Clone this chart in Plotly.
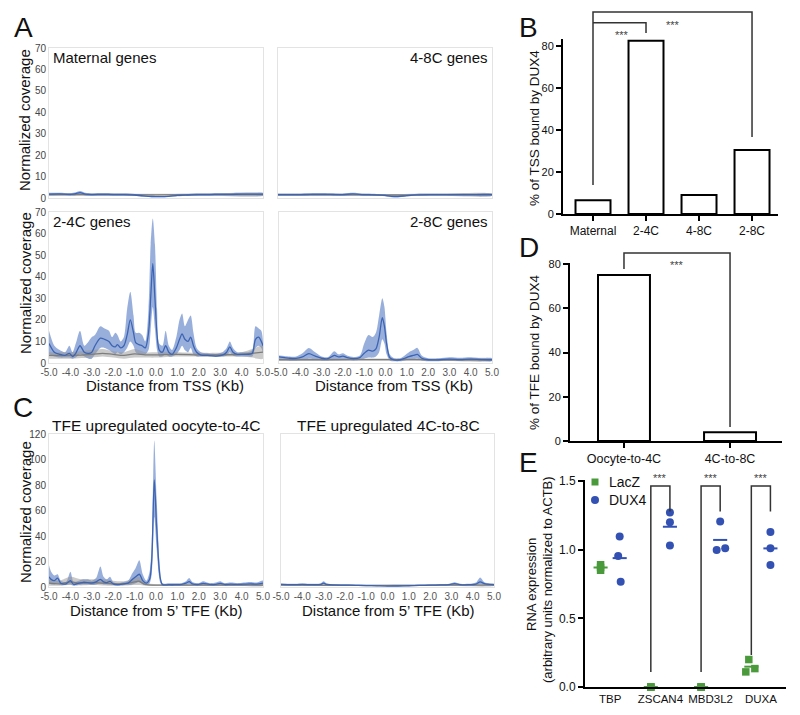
import plotly.graph_objects as go

W, H = 800, 715
FONT = "Liberation Sans, Arial, sans-serif"

# ---------------- DATA ----------------
# Panel A – Maternal genes (DUX4 blue, control gray)
mat_x = [-5.0, -4.5, -4.0, -3.75, -3.55, -3.3, -3.0, -2.5, -2.0, -1.5, -1.0, -0.6, -0.2, 0.2, 0.6, 1.0, 1.5, 2.0, 2.5, 3.0, 3.5, 4.0, 4.5, 5.0]
mat_mean = [1.8, 1.9, 1.7, 2.0, 2.5, 1.8, 1.6, 1.7, 1.6, 1.6, 1.4, 1.0, 0.7, 0.6, 0.8, 1.2, 1.4, 1.6, 1.6, 1.7, 1.7, 1.8, 1.8, 1.8]
mat_lo = [1.2, 1.3, 1.1, 1.3, 1.6, 1.2, 1.0, 1.1, 1.0, 1.0, 0.9, 0.6, 0.4, 0.3, 0.5, 0.8, 0.9, 1.0, 1.0, 1.1, 1.1, 1.2, 1.2, 1.2]
mat_hi = [2.4, 2.5, 2.3, 2.7, 3.3, 2.4, 2.2, 2.3, 2.2, 2.2, 1.9, 1.4, 1.0, 0.9, 1.1, 1.6, 1.9, 2.2, 2.2, 2.3, 2.3, 2.4, 2.4, 2.4]
mat_gx = [-5.0, -2.5, 0.0, 2.5, 5.0]
mat_gmean = [1.6, 1.6, 1.5, 1.6, 1.6]
mat_glo = [1.1, 1.1, 1.0, 1.1, 1.1]
mat_ghi = [2.1, 2.1, 2.0, 2.1, 2.1]

# Panel A – 4-8C genes
g48_x = [-5.0, -4.0, -3.0, -2.0, -1.5, -1.0, -0.5, 0.0, 0.3, 0.6, 1.0, 1.5, 2.0, 3.0, 4.0, 5.0]
g48_mean = [1.6, 1.6, 1.7, 1.6, 1.9, 1.6, 1.5, 1.2, 0.8, 0.7, 1.1, 1.5, 1.6, 1.6, 1.6, 1.6]
g48_lo = [1.1, 1.1, 1.2, 1.1, 1.3, 1.1, 1.0, 0.8, 0.4, 0.3, 0.7, 1.0, 1.1, 1.1, 1.1, 1.1]
g48_hi = [2.1, 2.1, 2.3, 2.1, 2.5, 2.1, 2.0, 1.6, 1.2, 1.1, 1.5, 2.0, 2.1, 2.1, 2.1, 2.1]
g48_gx = [-5.0, -2.5, 0.0, 2.5, 5.0]
g48_gmean = [1.5, 1.5, 1.4, 1.5, 1.5]
g48_glo = [1.0, 1.0, 0.9, 1.0, 1.0]
g48_ghi = [2.0, 2.0, 1.9, 2.0, 2.0]

# Panel A – 2-4C genes
g24_x = [-5.0, -4.75, -4.5, -4.25, -4.05, -3.9, -3.75, -3.55, -3.35, -3.15, -3.0, -2.85, -2.6, -2.4, -2.2, -2.05,
         -1.9, -1.8, -1.65, -1.5, -1.35, -1.2, -1.05, -0.95, -0.8, -0.65, -0.5, -0.35, -0.25, -0.15, -0.05, 0.05,
         0.15, 0.3, 0.45, 0.6, 0.75, 0.95, 1.1, 1.22, 1.35, 1.5, 1.62, 1.75, 1.9, 2.1, 2.4, 2.8, 3.1, 3.3, 3.45,
         3.6, 3.8, 4.0, 4.3, 4.5, 4.65, 4.8, 4.92, 5.0]
g24_mean = [9, 5, 4, 3.5, 4.5, 3, 4.5, 8, 5, 4.5, 5, 8, 11.5, 11, 10, 8,
            7.5, 8.5, 7, 8, 13, 20, 14, 9.5, 8.5, 8, 7, 14, 30, 46, 30, 13,
            6, 5, 8, 5, 4, 7, 11, 13.5, 11, 10, 12, 8, 5, 3.7, 3.5, 3.2, 3.6, 5, 7.5,
            5, 4, 4, 4, 4.5, 11, 12, 10, 8]
g24_lo = [4, 3, 2.5, 2.5, 2.5, 2, 2.5, 4, 3, 2, 2, 4, 7, 7, 6, 5,
          4, 5, 4, 5, 7, 10, 8, 5, 4, 4, 4, 6, 15, 26, 16, 6,
          3, 3, 4, 3, 3, 4, 6, 8, 6, 5, 7, 4, 3, 3, 3, 2.8, 3, 3.5, 5,
          3.5, 3, 3, 3, 3, 7, 8, 7, 5]
g24_hi = [15, 8, 6, 5, 8, 5, 9, 15, 8, 10, 12, 13, 17, 16, 15, 12,
          14, 13, 10, 12, 25, 33, 22, 14, 14, 13, 10, 25, 55, 67, 55, 25,
          9, 8, 15, 8, 6, 12, 20, 23, 17, 20, 22, 14, 7, 5, 4.5, 4.2, 5, 7, 10,
          7, 5, 5, 5, 6, 17, 16, 15, 10]
g24_gx = [-5.0, -4.0, -3.0, -2.5, -2.0, -1.5, -1.0, -0.5, 0.0, 1.0, 2.0, 3.0, 4.0, 4.5, 5.0]
g24_gmean = [3.5, 3.5, 4.0, 4.5, 4.0, 3.5, 4.2, 3.8, 3.8, 4.0, 3.8, 3.8, 4.0, 4.5, 5.0]
g24_glo = [2.0, 2.0, 2.5, 3.0, 2.5, 2.0, 2.5, 2.5, 2.5, 3.0, 3.0, 3.0, 3.0, 2.5, 2.0]
g24_ghi = [5.0, 5.0, 6.0, 6.5, 5.5, 5.0, 6.5, 5.0, 5.0, 5.0, 4.7, 4.7, 5.0, 6.5, 8.0]

# Panel A – 2-8C genes
g28_x = [-5.0, -4.75, -4.5, -4.2, -3.9, -3.6, -3.3, -3.0, -2.7, -2.4, -2.2, -2.0, -1.8, -1.5, -1.2, -1.0, -0.8,
         -0.6, -0.45, -0.3, -0.15, -0.05, 0.05, 0.2, 0.4, 0.7, 0.9, 1.1, 1.3, 1.5, 1.7, 2.0, 2.5, 3.0, 3.5, 4.0, 4.5, 5.0]
g28_mean = [2.8, 2.5, 2.2, 2.1, 2.8, 4.3, 3.2, 2.2, 2.0, 3.5, 2.8, 3.2, 2.5, 2.0, 2.5, 4.5, 6.0,
            5.5, 6.5, 12, 21, 17, 9, 2.5, 1.5, 1.5, 2.2, 3.0, 3.5, 4.0, 2.2, 1.5, 1.5, 1.8, 1.6, 1.8, 1.6, 1.5]
g28_lo = [1.5, 1.5, 1.2, 1.2, 1.5, 2.0, 1.8, 1.2, 1.2, 1.8, 1.5, 1.8, 1.5, 1.2, 1.5, 2.0, 2.5,
          2.5, 3.0, 5.0, 11, 9, 4, 1.2, 0.8, 0.8, 1.2, 1.5, 1.8, 2.0, 1.2, 0.8, 0.8, 1.0, 0.9, 1.0, 0.9, 0.9]
g28_hi = [3.5, 3.3, 3.0, 3.0, 4.5, 7.0, 5.0, 3.0, 2.8, 5.5, 4.0, 4.5, 3.5, 2.8, 3.5, 9.0, 13,
          12, 14, 22, 30, 26, 14, 4.0, 2.2, 2.2, 3.5, 5.0, 6.0, 7.0, 3.5, 2.2, 2.2, 2.7, 2.4, 2.7, 2.3, 2.2]
g28_gx = [-5.0, -2.5, 0.0, 2.5, 5.0]
g28_gmean = [1.5, 1.5, 1.6, 1.5, 1.5]
g28_glo = [1.0, 1.0, 1.1, 1.0, 1.0]
g28_ghi = [2.0, 2.0, 2.1, 2.0, 2.0]

# Panel C – TFE upregulated oocyte-to-4C
tfe1_x = [-5.0, -4.9, -4.75, -4.6, -4.45, -4.2, -4.0, -3.85, -3.6, -3.4, -3.2, -3.0, -2.8, -2.6, -2.45, -2.3,
          -2.15, -2.0, -1.8, -1.5, -1.3, -1.1, -0.95, -0.78, -0.62, -0.45, -0.3, -0.2, -0.08, 0.03, 0.19, 0.3,
          0.6, 0.9, 1.2, 1.4, 1.55, 1.7, 2.0, 2.2, 2.5, 2.8, 3.0, 3.2, 3.5, 3.8, 4.1, 4.4, 4.7, 5.0]
tfe1_mean = [8, 6, 5, 7, 3, 2.5, 5, 2, 3, 3.7, 3.5, 3, 4, 6, 4, 3.5,
             4.4, 2.5, 1.8, 2.5, 3, 6, 8, 10, 5, 3, 6, 21, 84, 47, 8, 2,
             1.8, 1.8, 2, 3, 4.2, 2.5, 2, 2.8, 2, 2, 2.8, 2, 2.2, 2, 2.2, 2.5, 2.2, 3]
tfe1_lo = [3, 2, 2, 3, 1.5, 1.5, 2, 1, 1.5, 2, 2, 1.5, 2, 3, 2, 2,
           2, 1.5, 1, 1.5, 1.5, 2, 3, 4, 2, 1.5, 3, 10, 55, 30, 4, 1,
           1, 1, 1, 1.5, 2, 1.5, 1, 1.5, 1, 1, 1.5, 1, 1, 1, 1, 1.5, 1, 1.5]
tfe1_hi = [17, 12, 9, 10, 5, 4, 12, 4, 5, 6, 6, 5, 7, 16, 8, 6,
           8, 4, 3, 4, 5, 11, 15, 21, 10, 5, 12, 35, 115, 70, 14, 3,
           3, 3, 3, 4.5, 7, 4, 3, 4.5, 3, 3.5, 4.5, 3, 3.5, 3, 3.5, 4, 3.5, 5]
tfe1_gx = [-5.0, -4.5, -4.0, -3.5, -3.0, -2.5, -2.0, -1.5, -1.0, -0.8, -0.5, 0.0, 1.0, 2.0, 3.0, 4.0, 5.0]
tfe1_gmean = [3, 2.5, 4, 3, 3.5, 3, 2.5, 2.5, 4, 4.5, 2, 1.5, 1.5, 1.5, 1.5, 1.5, 1.5]
tfe1_glo = [1, 1, 1.5, 1.2, 1.5, 1.2, 1, 1, 1.5, 1.5, 1, 0.8, 0.8, 0.8, 0.8, 0.8, 0.8]
tfe1_ghi = [6, 5, 8, 6, 6, 6, 5, 4.5, 7, 8, 3.5, 2.2, 2.2, 2.2, 2.2, 2.2, 2.2]

# Panel C – TFE upregulated 4C-to-8C
tfe2_x = [-5.0, -4.5, -4.0, -3.5, -3.15, -3.0, -2.85, -2.5, -2.0, -1.5, -1.0, -0.5, 0.0, 0.5, 1.0, 1.5, 2.0, 2.5,
          2.9, 3.15, 3.4, 3.8, 4.15, 4.35, 4.55, 4.8, 5.0]
tfe2_mean = [2.0, 1.8, 2.0, 1.8, 2.0, 3.0, 2.0, 1.6, 1.5, 1.3, 1.1, 0.9, 0.7, 0.8, 1.0, 1.2, 1.4, 1.6,
             1.9, 2.6, 1.9, 1.8, 2.3, 4.0, 2.6, 2.0, 1.9]
tfe2_lo = [1.3, 1.2, 1.3, 1.2, 1.3, 1.8, 1.3, 1.0, 0.9, 0.8, 0.6, 0.5, 0.4, 0.4, 0.6, 0.7, 0.8, 1.0,
           1.2, 1.5, 1.2, 1.1, 1.4, 2.2, 1.6, 1.2, 1.2]
tfe2_hi = [2.7, 2.5, 2.7, 2.5, 2.8, 4.5, 2.8, 2.2, 2.1, 1.8, 1.6, 1.3, 1.0, 1.2, 1.5, 1.7, 2.0, 2.2,
           2.6, 3.8, 2.6, 2.5, 3.5, 7.5, 3.8, 2.8, 2.6]
tfe2_gx = [-5.0, -2.5, 0.0, 2.5, 5.0]
tfe2_gmean = [1.4, 1.3, 1.3, 1.4, 1.4]
tfe2_glo = [0.9, 0.8, 0.8, 0.9, 0.9]
tfe2_ghi = [1.9, 1.8, 1.8, 1.9, 1.9]

dist_ticks = [-5.0, -4.0, -3.0, -2.0, -1.0, 0.0, 1.0, 2.0, 3.0, 4.0, 5.0]
dist_ticktext = ["-5.0", "-4.0", "-3.0", "-2.0", "-1.0", "0.0", "1.0", "2.0", "3.0", "4.0", "5.0"]

# Panel B
b_cats = ["Maternal", "2-4C", "4-8C", "2-8C"]
b_vals = [6.5, 82.5, 9.0, 30.5]

# Panel D
d_cats = ["Oocyte-to-4C", "4C-to-8C"]
d_vals = [75.0, 4.0]

# Panel E
e_genes = ["TBP", "ZSCAN4", "MBD3L2", "DUXA"]
e_lacz = [[0.89, 0.85, 0.87], [0.0, 0.0, 0.0], [0.0, 0.0, 0.0], [0.20, 0.11, 0.134]]
e_dux4 = [[1.095, 0.954, 0.766], [1.27, 1.20, 1.03], [1.204, 0.998, 1.01], [1.129, 1.01, 0.888]]
e_lacz_jit = [[0, 0, 0], [0, 0, 0], [0, 0, 0], [-0.05, -0.11, 0.07]]
e_dux4_jit = [[0, -0.03, 0.02], [0, 0, 0], [0, -0.07, 0.10], [0, 0, 0]]

# ---------------- GEOMETRY (pixels) ----------------
def dx(a, b):
    return [a / W, b / W]


def dy(top, bottom):
    return [1 - bottom / H, 1 - top / H]


BLUE_LINE = "#3d64b2"
BLUE_FILL = "rgba(78,118,194,0.58)"
GRAY_LINE = "#7d7d7d"
GRAY_FILL = "rgba(150,150,150,0.5)"
FRAME = "#e3e3e3"

fig = go.Figure()
layout = dict(
    template="none",
    width=W, height=H, margin=dict(l=0, r=0, t=0, b=0, pad=0, autoexpand=False),
    paper_bgcolor="white", plot_bgcolor="white", showlegend=False,
    font=dict(family=FONT, color="#222"),
)

cov_panels = [
    ((49, 263), (48, 198), 70, 10, True, False,
     (mat_x, mat_mean, mat_lo, mat_hi, mat_gx, mat_gmean, mat_glo, mat_ghi)),
    ((278, 492), (48, 198), 70, 10, False, False,
     (g48_x, g48_mean, g48_lo, g48_hi, g48_gx, g48_gmean, g48_glo, g48_ghi)),
    ((49, 263), (212, 363), 70, 10, True, True,
     (g24_x, g24_mean, g24_lo, g24_hi, g24_gx, g24_gmean, g24_glo, g24_ghi)),
    ((279, 492), (212, 363), 70, 10, False, True,
     (g28_x, g28_mean, g28_lo, g28_hi, g28_gx, g28_gmean, g28_glo, g28_ghi)),
    ((49, 263), (434, 587), 120, 20, True, True,
     (tfe1_x, tfe1_mean, tfe1_lo, tfe1_hi, tfe1_gx, tfe1_gmean, tfe1_glo, tfe1_ghi)),
    ((281, 494), (434, 587), 120, 20, False, True,
     (tfe2_x, tfe2_mean, tfe2_lo, tfe2_hi, tfe2_gx, tfe2_gmean, tfe2_glo, tfe2_ghi)),
]


def band(x, lo, hi, color, xa, ya):
    return go.Scatter(x=list(x) + list(x)[::-1], y=list(hi) + list(lo)[::-1], fill="toself",
                      fillcolor=color, mode="lines", line=dict(width=0, shape="spline", smoothing=0.8),
                      hoverinfo="skip", xaxis=xa, yaxis=ya)


for i, (xp, yp, ymax, ystep, ylab, xlab, d) in enumerate(cov_panels, start=1):
    sfx = "" if i == 1 else str(i)
    xa, ya = "x" + sfx, "y" + sfx
    bx, bm, bl, bh, gx, gm, gl, gh = d
    fig.add_trace(band(bx, bl, bh, BLUE_FILL, xa, ya))
    fig.add_trace(band(gx, gl, gh, GRAY_FILL, xa, ya))
    fig.add_trace(go.Scatter(x=gx, y=gm, mode="lines", line=dict(color=GRAY_LINE, width=1.3, shape="spline"),
                             xaxis=xa, yaxis=ya, hoverinfo="skip"))
    fig.add_trace(go.Scatter(x=bx, y=bm, mode="lines", line=dict(color=BLUE_LINE, width=1.3, shape="spline", smoothing=0.8),
                             xaxis=xa, yaxis=ya, hoverinfo="skip"))
    layout["xaxis" + sfx] = dict(domain=dx(*xp), range=[-5, 5], anchor=ya, showgrid=False, zeroline=False,
                                 automargin=False, showline=True, linecolor=FRAME, linewidth=1, mirror=True,
                                 tickvals=dist_ticks, ticktext=dist_ticktext, showticklabels=xlab,
                                 ticks="", ticklen=0, tickfont=dict(size=10, color="#555", family=FONT))
    layout["yaxis" + sfx] = dict(domain=dy(*yp), range=[0, ymax], anchor=xa, showgrid=False, zeroline=False,
                                 automargin=False, showline=True, linecolor=FRAME, linewidth=1, mirror=True,
                                 tickvals=list(range(0, ymax + 1, ystep)), showticklabels=ylab,
                                 ticks="", ticklen=0, tickfont=dict(size=10, color="#444", family=FONT))

GEO = {
    "B": dict(xpx=(563, 778), ypx=(214, 39), xr=(-0.566, 3.49), yr=(0, 83.3)),
    "D": dict(xpx=(570, 782), ypx=(441, 263), xr=(-0.509, 1.49), yr=(0, 80.45)),
    "E": dict(xpx=(585, 786), ypx=(687, 480), xr=(-0.5, 3.5), yr=(0, 1.507)),
}


def to_paper(p, xv, yv):
    g = GEO[p]
    px = g["xpx"][0] + (xv - g["xr"][0]) / (g["xr"][1] - g["xr"][0]) * (g["xpx"][1] - g["xpx"][0])
    py = g["ypx"][0] - (yv - g["yr"][0]) / (g["yr"][1] - g["yr"][0]) * (g["ypx"][0] - g["ypx"][1])
    return px / W, 1 - py / H


def axis_pair(p, sfx, xticks, xtext, yticks, ytext, xfont, yfont, xticklen=5):
    g = GEO[p]
    layout["xaxis" + sfx] = dict(domain=dx(*g["xpx"]), range=list(g["xr"]), anchor="y" + sfx,
                                 automargin=False,
                                 showgrid=False, zeroline=False, showline=True, linecolor="black", linewidth=2,
                                 tickvals=xticks, ticktext=xtext, ticks="outside" if xticklen else "",
                                 ticklen=xticklen, tickwidth=2, tickcolor="black",
                                 tickfont=dict(size=xfont, color="#111", family=FONT))
    layout["yaxis" + sfx] = dict(domain=dy(g["ypx"][1], g["ypx"][0]), range=list(g["yr"]), anchor="x" + sfx,
                                 automargin=False,
                                 showgrid=False, zeroline=False, showline=True, linecolor="black", linewidth=2,
                                 tickvals=yticks, ticktext=ytext, ticks="outside", ticklen=5, tickwidth=2,
                                 tickcolor="black", tickfont=dict(size=yfont, color="#111", family=FONT))


fig.add_trace(go.Bar(x=list(range(len(b_cats))), y=b_vals, width=0.66,
                     marker=dict(color="white", line=dict(color="black", width=2)),
                     xaxis="x7", yaxis="y7", hoverinfo="skip"))
axis_pair("B", "7", list(range(len(b_cats))), b_cats, [0, 20, 40, 60, 80], ["0", "20", "40", "60", "80"], 12, 11)

fig.add_trace(go.Bar(x=list(range(len(d_cats))), y=d_vals, width=0.49,
                     marker=dict(color="white", line=dict(color="black", width=2)),
                     xaxis="x8", yaxis="y8", hoverinfo="skip"))
axis_pair("D", "8", list(range(len(d_cats))), d_cats, [0, 20, 40, 60, 80], ["0", "20", "40", "60", "80"], 12.5, 11)

GREEN = "#4a9a3c"
EBLUE = "#3251b3"
OFF = 0.19
for gi, gname in enumerate(e_genes):
    lx = [gi - OFF + j for j in e_lacz_jit[gi]]
    ux = [gi + OFF + j for j in e_dux4_jit[gi]]
    lm = sum(e_lacz[gi]) / len(e_lacz[gi])
    um = sum(e_dux4[gi]) / len(e_dux4[gi])
    fig.add_trace(go.Scatter(x=[gi - OFF - 0.14, gi - OFF + 0.14], y=[lm, lm], mode="lines",
                             line=dict(color=GREEN, width=2), xaxis="x9", yaxis="y9", hoverinfo="skip"))
    fig.add_trace(go.Scatter(x=[gi + OFF - 0.14, gi + OFF + 0.14], y=[um, um], mode="lines",
                             line=dict(color=EBLUE, width=2), xaxis="x9", yaxis="y9", hoverinfo="skip"))
    fig.add_trace(go.Scatter(x=lx, y=e_lacz[gi], mode="markers", cliponaxis=False,
                             marker=dict(symbol="square", size=7.5, color=GREEN, line=dict(width=0)),
                             xaxis="x9", yaxis="y9", hoverinfo="skip"))
    fig.add_trace(go.Scatter(x=ux, y=e_dux4[gi], mode="markers", cliponaxis=False,
                             marker=dict(symbol="circle", size=8, color=EBLUE, line=dict(width=0)),
                             xaxis="x9", yaxis="y9", hoverinfo="skip"))
axis_pair("E", "9", list(range(len(e_genes))), e_genes, [0, 0.5, 1.0, 1.5], ["0.0", "0.5", "1.0", "1.5"],
          11.5, 12, xticklen=0)

# ---------------- ANNOTATIONS / SHAPES ----------------
ann = []
shapes = []


def text(xp, yp, s, size, xanchor="center", yanchor="middle", angle=0, color="#111"):
    ann.append(dict(x=xp / W, y=1 - yp / H, xref="paper", yref="paper", text=s, showarrow=False,
                    xanchor=xanchor, yanchor=yanchor, textangle=angle,
                    font=dict(size=size, color=color, family=FONT)))


for s, (xp, yp) in {"A": (23, 28), "B": (528, 28), "C": (23, 408), "D": (529, 247), "E": (528, 462)}.items():
    text(xp, yp, s, 28)

text(51, 58, "Maternal genes", 15, xanchor="left")
text(490, 58, "4-8C genes", 15, xanchor="right")
text(51, 221, "2-4C genes", 15, xanchor="left")
text(490, 221, "2-8C genes", 15, xanchor="right")
text(156, 425, "TFE upregulated oocyte-to-4C", 15.5)
text(388, 425, "TFE upregulated 4C-to-8C", 15.5)
text(25, 120, "Normalized coverage", 15, angle=-90)
text(25, 283, "Normalized coverage", 15, angle=-90)
text(25, 512, "Normalized coverage", 15, angle=-90)
text(165, 385, "Distance from TSS (Kb)", 15)
text(394, 385, "Distance from TSS (Kb)", 15)
text(156, 610, "Distance from 5\u2019 TFE (Kb)", 15)
text(388, 610, "Distance from 5\u2019 TFE (Kb)", 15)
text(534, 128, "% of TSS bound by DUX4", 13.5, angle=-90)
text(534, 352, "% of TFE bound by DUX4", 13.5, angle=-90)
text(531, 585, "RNA expression", 13, angle=-90)
text(547, 580, "(arbitrary units normalized to ACTB)", 13, angle=-90)


def bracket(p, pts, color="#333"):
    path = ""
    for k, (xv, yv) in enumerate(pts):
        xp, yp = to_paper(p, xv, yv)
        path += ("M" if k == 0 else "L") + f"{xp:.5f},{yp:.5f} "
    shapes.append(dict(type="path", path=path.strip(), xref="paper", yref="paper",
                       line=dict(color=color, width=1.5)))


def stars(p, xv, yv):
    xp, yp = to_paper(p, xv, yv)
    ann.append(dict(x=xp, y=yp, xref="paper", yref="paper", text="***", showarrow=False,
                    xanchor="center", yanchor="middle", font=dict(size=11, color="#444", family=FONT)))


bracket("B", [(0, 13.8), (0, 96.2), (3, 96.2), (3, 36.7)])
bracket("B", [(0, 91.0), (1, 91.0), (1, 86.2)])
stars("B", 1.5, 90.0)
stars("B", 0.55, 85.3)
bracket("D", [(0, 77.7), (0, 85.0), (1, 85.0), (1, 6.3)])
stars("D", 0.5, 79.5)
bracket("E", [(1 - OFF, 0.11), (1 - OFF, 1.464), (1 + OFF, 1.464), (1 + OFF, 1.277)])
bracket("E", [(2 - OFF, 0.11), (2 - OFF, 1.464), (2 + OFF, 1.464), (2 + OFF, 1.277)])
bracket("E", [(3 - OFF, 0.233), (3 - OFF, 1.464), (3 + OFF, 1.464), (3 + OFF, 1.277)])
for gi in (1, 2, 3):
    stars("E", gi, 1.52)

shapes.append(dict(type="rect", xref="paper", yref="paper", x0=591.5 / W, x1=598.5 / W,
                   y0=1 - 485.5 / H, y1=1 - 478.5 / H, fillcolor=GREEN, line=dict(width=0)))
shapes.append(dict(type="circle", xref="paper", yref="paper", x0=591 / W, x1=599 / W,
                   y0=1 - 504 / H, y1=1 - 496 / H, fillcolor=EBLUE, line=dict(width=0)))
text(607, 482, "LacZ", 14, xanchor="left")
text(607, 500, "DUX4", 14, xanchor="left")

layout["annotations"] = ann
layout["shapes"] = shapes
fig.update_layout(**layout)
fig.write_html("out.html",
               config={"displayModeBar": False, "staticPlot": True},
               post_script="document.body.style.margin='0';document.body.style.padding='0';"
                           "document.body.style.overflow='hidden';")
